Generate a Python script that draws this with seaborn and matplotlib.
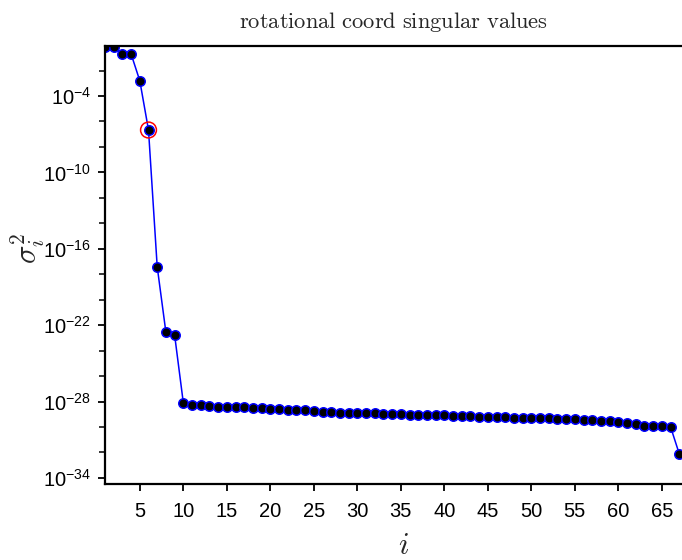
import numpy as np
import pandas as pd
import matplotlib
matplotlib.use("Agg")
import matplotlib.pyplot as plt
import matplotlib.ticker as mticker
import seaborn as sns

# ---- data ----
index = list(range(1, 68))
sigma2 = [
    7.41e-1, 6.76e-1, 2.00e-1, 2.00e-1, 1.58e-3, 2.14e-7, 3.89e-18, 2.75e-23, 1.70e-23,
    8.13e-29, 5.62e-29, 5.37e-29, 4.68e-29, 3.89e-29, 3.89e-29, 3.72e-29, 3.55e-29,
    3.09e-29, 2.95e-29, 2.75e-29, 2.45e-29, 2.29e-29, 2.14e-29, 2.00e-29, 1.82e-29,
    1.48e-29, 1.41e-29, 1.32e-29, 1.32e-29, 1.26e-29, 1.17e-29, 1.17e-29, 1.10e-29,
    1.05e-29, 1.00e-29, 9.12e-30, 9.12e-30, 8.71e-30, 8.71e-30, 8.32e-30, 7.76e-30,
    7.08e-30, 6.92e-30, 6.46e-30, 6.03e-30, 5.75e-30, 5.75e-30, 5.37e-30, 5.37e-30,
    5.13e-30, 4.79e-30, 4.79e-30, 4.47e-30, 4.27e-30, 3.98e-30, 3.72e-30, 3.55e-30,
    3.09e-30, 2.82e-30, 2.63e-30, 2.19e-30, 1.70e-30, 1.26e-30, 1.20e-30, 1.12e-30,
    1.05e-30, 7.94e-33,
]
highlight_index = [6]
xtick_values = [5, 10, 15, 20, 25, 30, 35, 40, 45, 50, 55, 60, 65]
ytick_exponents = [-4, -10, -16, -22, -28, -34]
title_text = "rotational coord singular values"

df = pd.DataFrame({"i": index, "s2": sigma2})
hl = df[df["i"].isin(highlight_index)]

sns.set_style("ticks")
plt.rcParams["font.family"] = ["Liberation Sans", "DejaVu Sans"]
plt.rcParams["mathtext.fontset"] = "cm"

fig = plt.figure(figsize=(6.82, 5.60), dpi=100)
ax = fig.add_axes([105 / 682, 1 - 484 / 560, 1 - 105 / 682, (484 - 46) / 560])

sns.lineplot(data=df, x="i", y="s2", ax=ax, color="blue", linewidth=1.1,
             marker="o", markersize=6.8, markerfacecolor="black",
             markeredgecolor="blue", markeredgewidth=1.1)
sns.scatterplot(data=hl, x="i", y="s2", ax=ax, s=130, facecolor="none",
                edgecolor="red", linewidth=1.1, zorder=5)

ax.set_yscale("log")
ax.set_xlim(1, 67.32)
ax.set_ylim(10 ** -34.48, 10 ** -0.07)

ax.xaxis.set_major_locator(mticker.FixedLocator(xtick_values))
ax.yaxis.set_major_locator(mticker.FixedLocator([10.0 ** e for e in ytick_exponents]))
ax.yaxis.set_minor_locator(mticker.FixedLocator(
    [10.0 ** e for e in range(-34, 1, 2) if e not in ytick_exponents]))
ax.yaxis.set_minor_formatter(mticker.NullFormatter())
ax.set_yticklabels([r"$\mathdefault{10^{%d}}$" % e for e in ytick_exponents])

ax.tick_params(axis="both", which="major", labelsize=14.5, length=5, width=1.3,
               direction="out", color="black", labelcolor="black")
ax.tick_params(axis="y", which="minor", length=4, width=1.3, direction="out")
ax.tick_params(axis="x", pad=8)
ax.tick_params(axis="y", pad=5)

for side in ["left", "bottom", "top"]:
    ax.spines[side].set_visible(True)
    ax.spines[side].set_linewidth(1.6)
    ax.spines[side].set_color("black")
ax.spines["right"].set_visible(False)

ax.set_title(r"$\mathrm{" + title_text.replace(" ", r"\ ") + "}$", fontsize=16.2, pad=13)
ax.set_xlabel(r"$i$", fontsize=22)
ax.set_ylabel(r"$\sigma_i^2$", fontsize=22)
ax.xaxis.set_label_coords((404 - 105) / 577, (484 - 531) / 438)
ax.yaxis.set_label_coords((47 - 105) / 577, (484 - 248) / 438)

fig.savefig("out.png", dpi=100)
